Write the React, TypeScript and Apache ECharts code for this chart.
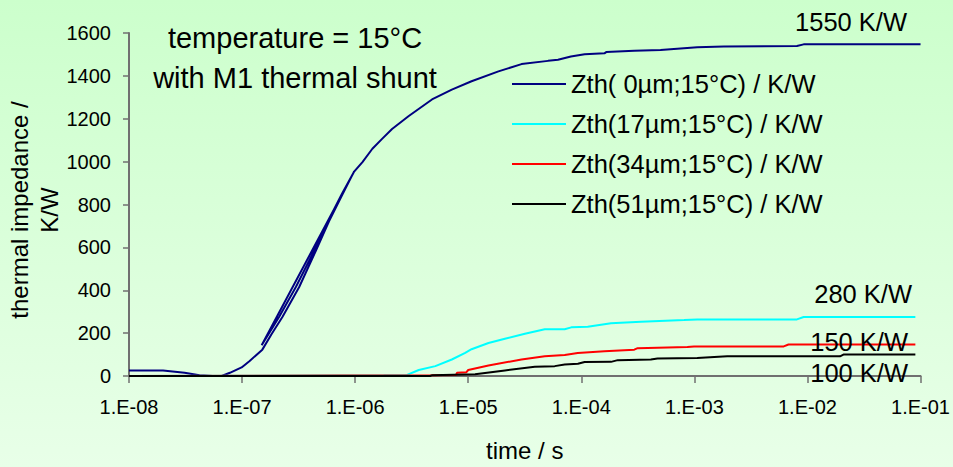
import React, { useEffect, useRef } from "react";
import * as echarts from "echarts";

// ---- data ----
const seriesNames = [
  "Zth( 0µm;15°C) / K/W",
  "Zth(17µm;15°C) / K/W",
  "Zth(34µm;15°C) / K/W",
  "Zth(51µm;15°C) / K/W",
];
const seriesColors = ["#000080", "#00FFFF", "#FF0000", "#000000"];

const timeBlue = [
  1e-8, 2.0e-8, 3.1e-8, 4.2e-8, 5.5e-8, 6.6e-8, 7.8e-8, 9.9e-8, 1.16e-7, 1.51e-7,
  1.82e-7, 2.28e-7, 3.2e-7, 4.49e-7, 5.87e-7, 7.69e-7, 9.75e-7,
  1.49e-7, 2.13e-7, 2.99e-7, 4.34e-7, 5.85e-7, 7.65e-7, 9.75e-7,
  1.16e-6, 1.42e-6, 1.73e-6, 2.12e-6, 2.98e-6, 4.78e-6, 7.16e-6, 1.07e-5, 1.85e-5, 2.96e-5,
  5.08e-5, 6.22e-5, 8.09e-5, 1.07e-4, 1.6e-4, 1.66e-4, 2.94e-4, 5.02e-4, 1.06e-3, 1.82e-3,
  8.07e-3, 9.25e-3, 1e-1,
];
const valueBlue = [
  26, 26, 15, 3, 0, 0, 15, 40, 69, 123,
  195, 276, 415, 584, 722, 845, 952,
  143, 276, 415, 584, 730, 850, 952,
  998, 1060, 1106, 1152, 1213, 1290, 1336, 1375, 1421, 1455,
  1470, 1475, 1490, 1501, 1505, 1511, 1517, 1521, 1533, 1537,
  1539, 1547, 1547,
];

const timeCyan = [
  1e-8, 1.79e-6, 2.88e-6, 3.65e-6, 5.12e-6, 7.16e-6, 9.4e-6, 1.07e-5, 1.51e-5, 2.11e-5,
  3.17e-5, 4.75e-5, 7.13e-5, 8.15e-5, 1.14e-4, 1.83e-4, 3.37e-4, 8.1e-4, 1.06e-3, 8.07e-3,
  9.25e-3, 9.0e-2,
];
const valueCyan = [
  0, 3, 5, 28, 46, 77, 108, 125, 154, 174,
  197, 218, 218, 227, 230, 246, 253, 261, 264, 264,
  275, 275,
];

const timeRed = [
  1e-8, 4.8e-6, 7.8e-6, 7.95e-6, 9.6e-6, 1.0e-5, 1.51e-5, 2.96e-5, 4.75e-5, 7.13e-5,
  9.3e-5, 1.6e-4, 2.94e-4, 3.15e-4, 8.67e-4, 9.93e-4, 6.17e-3, 6.8e-3, 9.0e-2,
];
const valueRed = [
  0, 3, 5, 15, 17, 28, 49, 77, 92, 98,
  107, 115, 123, 130, 135, 138, 138, 147, 147,
];

const timeBlack = [
  1e-8, 4.6e-6, 4.8e-6, 1.15e-5, 2.11e-5, 3.88e-5, 5.82e-5, 7.13e-5, 9.33e-5, 1.07e-4,
  1.83e-4, 2.1e-4, 4.12e-4, 4.72e-4, 1.06e-3, 1.95e-3, 1.94e-2, 2.08e-2, 9.0e-2,
];
const valueBlack = [
  0, 0, 4, 8, 26, 43, 46, 54, 57, 65,
  66, 74, 77, 82, 84, 92, 92, 100, 100,
];

const annotationLines = ["temperature = 15°C", "with M1 thermal shunt"];
const endLabels = ["1550 K/W", "280 K/W", "150 K/W", "100 K/W"];
const xAxisTitle = "time / s";
const yAxisTitle = "thermal impedance /\nK/W";

const FONT = '"Liberation Sans", Arial, Helvetica, sans-serif';

function pairs(t: number[], v: number[]) {
  return t.map((x, i) => [x, v[i]]);
}

function fmtExp(v: number) {
  const e = Math.round(Math.log10(v));
  const a = Math.abs(e);
  return "1.E" + (e < 0 ? "-" : "+") + (a < 10 ? "0" + a : "" + a);
}

export default function App() {
  const ref = useRef<HTMLDivElement>(null);
  useEffect(() => {
    if (!ref.current) return;
    const chart = echarts.init(ref.current, undefined, { renderer: "svg" });
    const data = [
      pairs(timeBlue, valueBlue),
      pairs(timeCyan, valueCyan),
      pairs(timeRed, valueRed),
      pairs(timeBlack, valueBlack),
    ];
    const axisLine = { show: true, lineStyle: { color: "#707070", width: 2 } };
    chart.setOption({
      animation: false,
      backgroundColor: "transparent",
      textStyle: { fontFamily: FONT },
      grid: { left: 129, right: 29, top: 33, bottom: 87, containLabel: false },
      xAxis: {
        type: "log",
        logBase: 10,
        min: 1e-8,
        max: 1e-1,
        splitNumber: 7,
        name: xAxisTitle,
        nameLocation: "middle",
        nameGap: 62,
        nameTextStyle: { fontSize: 24, color: "#000", fontFamily: FONT },
        axisLine,
        axisTick: { show: true, length: 7, lineStyle: { color: "#707070", width: 1.5 } },
        axisLabel: {
          color: "#000",
          fontSize: 20,
          margin: 21,
          fontFamily: FONT,
          showMinLabel: true,
          showMaxLabel: true,
          formatter: (v: number) => fmtExp(v),
        },
        splitLine: { show: false },
        minorTick: { show: false },
      },
      yAxis: {
        type: "value",
        min: 0,
        max: 1600,
        interval: 200,
        axisLine,
        axisTick: { show: true, length: 6, lineStyle: { color: "#707070", width: 1.5 } },
        axisLabel: {
          color: "#000",
          fontSize: 20,
          margin: 18,
          fontFamily: FONT,
          formatter: (v: number) => String(v),
        },
        splitLine: { show: false },
      },
      legend: {
        orient: "vertical",
        left: 512,
        top: 71,
        padding: 0,
        icon: "rect",
        itemWidth: 54,
        itemHeight: 2,
        itemGap: 14,
        textStyle: { fontSize: 25.5, color: "#000", fontFamily: FONT, lineHeight: 26 },
        data: seriesNames,
      },
      series: seriesNames.map((name, i) => ({
        name,
        type: "line",
        data: data[i],
        symbol: "none",
        color: seriesColors[i],
        lineStyle: { color: seriesColors[i], width: 2 },
      })),
      graphic: [
        {
          type: "text",
          x: 295,
          y: 38,
          style: {
            text: annotationLines[0],
            fontSize: 29,
            fontFamily: FONT,
            fill: "#000",
            align: "center",
            verticalAlign: "middle",
          },
        },
        {
          type: "text",
          x: 295,
          y: 78,
          style: {
            text: annotationLines[1],
            fontSize: 29,
            fontFamily: FONT,
            fill: "#000",
            align: "center",
            verticalAlign: "middle",
          },
        },
        ...[
          [907, 22],
          [912, 294],
          [908, 342],
          [908, 373],
        ].map((p, i) => ({
          type: "text",
          x: p[0],
          y: p[1],
          z: 100,
          style: {
            text: endLabels[i],
            fontSize: 25.5,
            fontFamily: FONT,
            fill: "#000",
            align: "right",
            verticalAlign: "middle",
          },
        })),
        {
          type: "text",
          x: 34,
          y: 210,
          rotation: Math.PI / 2,
          style: {
            text: yAxisTitle,
            fontSize: 24,
            lineHeight: 30,
            fontFamily: FONT,
            fill: "#000",
            align: "center",
            verticalAlign: "middle",
          },
        },
      ],
    });
    return () => chart.dispose();
  }, []);
  return (
    <div
      ref={ref}
      style={{
        position: "fixed",
        left: 0,
        top: 0,
        width: 953,
        height: 467,
        background: "linear-gradient(to bottom, #CCFFCC 0%, #E8FFE8 100%)",
      }}
    />
  );
}
